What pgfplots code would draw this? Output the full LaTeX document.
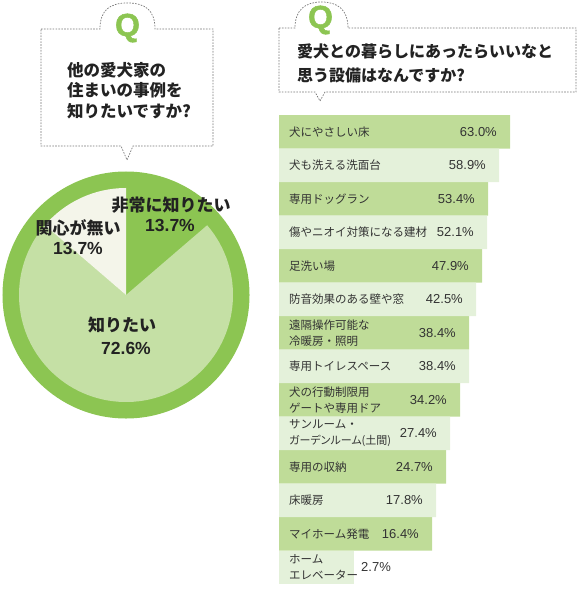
\documentclass[border=0pt]{standalone}
\usepackage{pgfplots}
\pgfplotsset{compat=1.18}
\usepackage{pgfplotstable}
\usepackage{fontspec}
\setmainfont{Liberation Sans}
\newfontfamily\jp{Noto Sans CJK JP}
\newfontfamily\jpp[RawFeature=+palt]{Noto Sans CJK JP}
\newfontfamily\qfont[BoldFeatures={FakeBold=1.6}]{Liberation Sans}
\definecolor{qgreen}{HTML}{8CC552}
\definecolor{ringgreen}{HTML}{8CC552}
\definecolor{pielight}{HTML}{C5E0A5}
\definecolor{piewhite}{HTML}{F4F5EA}
\definecolor{bardark}{HTML}{BFDC98}
\definecolor{barlight}{HTML}{E4F1DA}
\definecolor{labgray}{HTML}{333333}
\definecolor{qtext}{HTML}{222222}
\definecolor{dashgray}{HTML}{777777}

\pgfplotstableread{
idx len pct
1 231 63.0
3 209 53.4
5 203 47.9
7 190 38.4
9 181 34.2
11 167 24.7
13 153 16.4
}\darkrows
\pgfplotstableread{
idx len pct
2 220 58.9
4 208 52.1
6 197 42.5
8 190 38.4
10 171 27.4
12 157 17.8
}\lightrows
\pgfplotstableread{
idx len pct
14 75 2.7
}\lastrow

\begin{document}
\begin{tikzpicture}[x=1pt,y=-1pt]
\useasboundingbox (0,0) rectangle (580,591);

% ---------- left callout ----------
\draw[dashgray, line width=0.7pt, dash pattern=on 1.6pt off 1.3pt]
  (41,29) -- (100,29) .. controls (100,10) and (110,3) .. (127.5,3)
  .. controls (145,3) and (155,10) .. (155,29) -- (213,29) -- (213,146)
  -- (133,146) -- (127,160) -- (121,146) -- (41,146) -- cycle;
\node[font=\qfont\bfseries\fontsize{32}{32}\selectfont, text=qgreen] at (127.5,28) {Q};
\node[anchor=west, inner sep=0pt, font=\jp\bfseries\fontsize{16.5}{20}\selectfont, text=qtext] at (67,70) {他の愛犬家の};
\node[anchor=west, inner sep=0pt, font=\jp\bfseries\fontsize{16.5}{20}\selectfont, text=qtext] at (67,90.5) {住まいの事例を};
\node[anchor=west, inner sep=0pt, font=\jp\bfseries\fontsize{16.5}{20}\selectfont, text=qtext] at (67,111) {知りたいですか?};

% ---------- right callout ----------
\draw[dashgray, line width=0.7pt, dash pattern=on 1.6pt off 1.3pt]
  (279,28) -- (295,28) .. controls (295,10) and (305,2) .. (321.5,2)
  .. controls (338,2) and (348,10) .. (348,28) -- (576,28) -- (576,92)
  -- (325,92) -- (320,101) -- (315,92) -- (279,92) -- cycle;
\node[font=\qfont\bfseries\fontsize{32}{32}\selectfont, text=qgreen] at (320.5,20) {Q};
\node[anchor=west, inner sep=0pt, font=\jp\bfseries\fontsize{16}{20}\selectfont, text=qtext] at (297,51) {愛犬との暮らしにあったらいいなと};
\node[anchor=west, inner sep=0pt, font=\jp\bfseries\fontsize{16}{20}\selectfont, text=qtext] at (297,75) {思う設備はなんですか?};

% ---------- pie ----------
\begin{axis}[at={(126pt,-295pt)}, anchor=center, scale only axis,
  width=248pt, height=248pt, xmin=-1, xmax=1, ymin=-1, ymax=1,
  hide axis, clip=false]
  \fill[ringgreen] (axis cs:0,0) circle[radius=0.996];
  \fill[ringgreen] (axis cs:0,0) -- (axis cs:{0.863*cos(90)},{0.863*sin(90)})
    arc[start angle=90, delta angle={-3.6*13.7}, radius=0.863] -- cycle;
  \fill[pielight] (axis cs:0,0) -- (axis cs:{0.863*cos(90-3.6*13.7)},{0.863*sin(90-3.6*13.7)})
    arc[start angle={90-3.6*13.7}, delta angle={-3.6*72.6}, radius=0.863] -- cycle;
  \fill[piewhite] (axis cs:0,0) -- (axis cs:{0.863*cos(90-3.6*86.3)},{0.863*sin(90-3.6*86.3)})
    arc[start angle={90-3.6*86.3}, delta angle={-3.6*13.7}, radius=0.863] -- cycle;
\end{axis}
\node[font=\jp\bfseries\fontsize{17}{20}\selectfont, text=qtext] at (171,205) {非常に知りたい};
\node[font=\bfseries\fontsize{17.5}{20}\selectfont, text=qtext] at (170,225) {13.7\%};
\node[font=\jp\bfseries\fontsize{17}{20}\selectfont, text=qtext] at (78,228) {関心が無い};
\node[font=\bfseries\fontsize{17.5}{20}\selectfont, text=qtext] at (78,248) {13.7\%};
\node[font=\jp\bfseries\fontsize{17}{20}\selectfont, text=qtext] at (122,325) {知りたい};
\node[font=\bfseries\fontsize{17.5}{20}\selectfont, text=qtext] at (126,348) {72.6\%};

% ---------- bars ----------
\begin{axis}[at={(279pt,-115pt)}, anchor=north west, scale only axis,
  width=300pt, height=469pt,
  xmin=0, xmax=300, ymin=0.5, ymax=14.5, y dir=reverse,
  axis line style={draw=none}, major tick length=0pt, xtick=\empty,
  ytick={1,...,14},
  yticklabels={犬にやさしい床, 犬も洗える洗面台, 専用ドッグラン, 傷やニオイ対策になる建材, 足洗い場, 防音効果のある壁や窓, {遠隔操作可能な\\冷暖房・照明}, 専用トイレスペース, {犬の行動制限用\\ゲートや専用ドア}, {サンルーム・\\{\jpp\fontsize{11}{16}\selectfont ガーデンルーム(土間)}}, 専用の収納, 床暖房, マイホーム発電, {ホーム\\エレベーター}},
  yticklabel style={anchor=west, inner sep=0pt, xshift=10pt, align=left,
    font=\jp\fontsize{11.5}{16}\selectfont, text=labgray},
  axis on top, clip=false,
  point meta=explicit symbolic]
  \addplot[xbar, bar width=1, bar shift=0pt, fill=bardark, draw=none,
    nodes near coords={\pgfplotspointmeta\%},
    nodes near coords style={anchor=east, inner sep=0pt, xshift=-13pt,
      font=\fontsize{13}{15}\selectfont, text=labgray}]
    table[x=len, y=idx, meta=pct] {\darkrows};
  \addplot[xbar, bar width=1, bar shift=0pt, fill=barlight, draw=none,
    nodes near coords={\pgfplotspointmeta\%},
    nodes near coords style={anchor=east, inner sep=0pt, xshift=-13pt,
      font=\fontsize{13}{15}\selectfont, text=labgray}]
    table[x=len, y=idx, meta=pct] {\lightrows};
  \addplot[xbar, bar width=1, bar shift=0pt, fill=barlight, draw=none,
    nodes near coords={\pgfplotspointmeta\%},
    nodes near coords style={anchor=west, inner sep=0pt, xshift=7pt,
      font=\fontsize{13}{15}\selectfont, text=labgray}]
    table[x=len, y=idx, meta=pct] {\lastrow};
\end{axis}
\end{tikzpicture}
\end{document}
